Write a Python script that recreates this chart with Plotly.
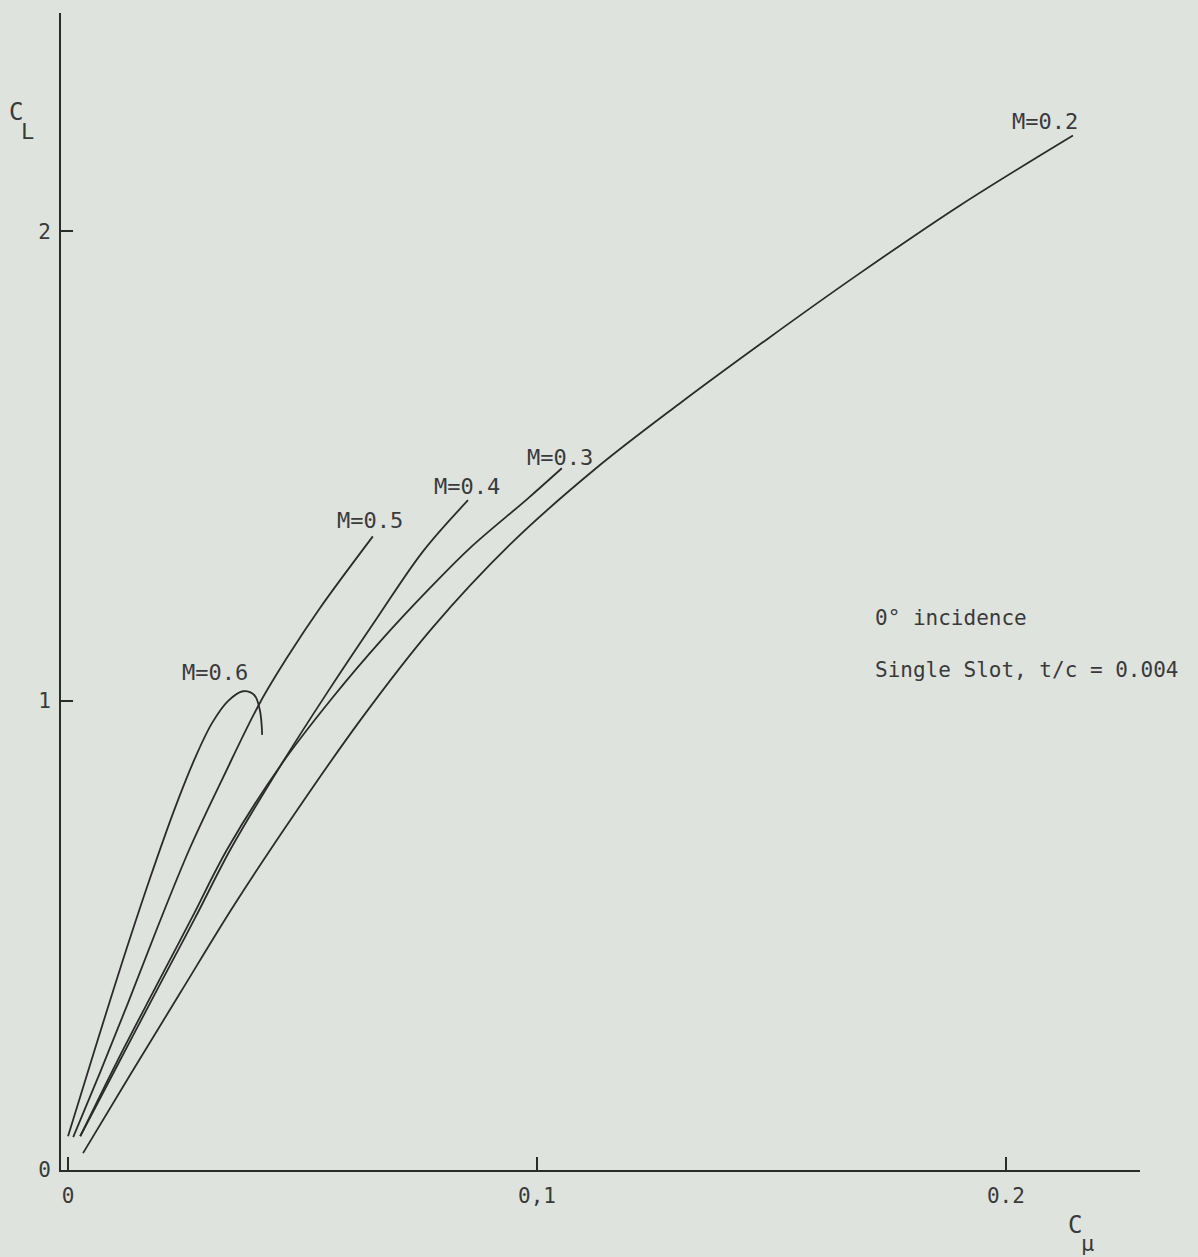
import plotly.graph_objects as go

# C_mu (x) and C_L (y) values, one pair of lists per Mach number
m02_cmu = [0.0032, 0.0132, 0.0239, 0.0354, 0.0484, 0.0623, 0.0776, 0.0945, 0.1126, 0.1303, 0.1488, 0.1682, 0.1902, 0.2143]
m02_cl = [0.036, 0.202, 0.377, 0.564, 0.760, 0.958, 1.154, 1.335, 1.495, 1.632, 1.768, 1.906, 2.055, 2.204]

m03_cmu = [0.0026, 0.0104, 0.0186, 0.0264, 0.0341, 0.0454, 0.0563, 0.0672, 0.0772, 0.0857, 0.0981, 0.1053]
m03_cl = [0.072, 0.230, 0.388, 0.537, 0.686, 0.863, 1.005, 1.133, 1.240, 1.325, 1.431, 1.495]

m04_cmu = [0.0026, 0.0109, 0.0192, 0.0271, 0.0348, 0.0454, 0.0552, 0.0659, 0.0757, 0.0853]
m04_cl = [0.072, 0.230, 0.388, 0.537, 0.686, 0.863, 1.016, 1.176, 1.318, 1.427]

m05_cmu = [0.0011, 0.0068, 0.0128, 0.0190, 0.0260, 0.0330, 0.0409, 0.0473, 0.0537, 0.0650]
m05_cl = [0.070, 0.207, 0.356, 0.515, 0.686, 0.835, 0.995, 1.101, 1.197, 1.350]

m06_cmu = [0.0000, 0.0058, 0.0115, 0.0175, 0.0228, 0.0271, 0.0307, 0.0341, 0.0373, 0.0397, 0.0409, 0.0414]
m06_cl = [0.072, 0.260, 0.441, 0.622, 0.771, 0.878, 0.952, 0.999, 1.020, 1.012, 0.980, 0.927]

series_names = ["M=0.2", "M=0.3", "M=0.4", "M=0.5", "M=0.6"]
label_cmu = [0.2083, 0.1049, 0.0851, 0.0644, 0.0313]
label_cl = [2.234, 1.517, 1.457, 1.384, 1.061]

x_tickvals = [0, 0.1, 0.2]
x_ticktext = ["0", "0,1", "0.2"]
y_tickvals = [0, 1, 2]
y_ticktext = ["0", "1", "2"]

BG = "#dfe3de"
INK = "#2b2b2b"
TXT = "#3a3a3a"
FONT = "DejaVu Sans Mono"

fig = go.Figure()
for xs, ys, name in zip([m02_cmu, m03_cmu, m04_cmu, m05_cmu, m06_cmu],
                        [m02_cl, m03_cl, m04_cl, m05_cl, m06_cl], series_names):
    fig.add_trace(go.Scatter(x=xs, y=ys, mode="lines", name=name,
                             line=dict(color=INK, width=1.8, shape="spline", smoothing=1.0),
                             showlegend=False, hoverinfo="skip"))

for name, lx, ly in zip(series_names, label_cmu, label_cl):
    fig.add_annotation(x=lx, y=ly, text=name, showarrow=False,
                       xanchor="center", yanchor="middle",
                       font=dict(family=FONT, size=22, color=TXT))

fig.add_annotation(x=0.1716, y=1.176, text="0° incidence", showarrow=False,
                   xanchor="left", yanchor="middle",
                   font=dict(family=FONT, size=21, color=TXT))
fig.add_annotation(x=0.1716, y=1.065, text="Single Slot, t/c = 0.004", showarrow=False,
                   xanchor="left", yanchor="middle",
                   font=dict(family=FONT, size=21, color=TXT))

# axis titles: C_L at upper left, C_mu at lower right
title_parts = [
    (-0.0417, 0.9144, "C", 24),
    (-0.0306, 0.8980, "L", 22),
    (0.9398, -0.0475, "C", 24),
    (0.9518, -0.0631, "μ", 22),
]
for px_, py_, txt, sz in title_parts:
    fig.add_annotation(xref="paper", yref="paper", x=px_, y=py_, text=txt,
                       xanchor="center", yanchor="middle", showarrow=False,
                       font=dict(family=FONT, size=sz, color=TXT))

fig.update_layout(
    width=1198, height=1257, autosize=False,
    margin=dict(l=61, r=58, t=13, b=87),
    paper_bgcolor=BG, plot_bgcolor=BG,
    font=dict(family=FONT, size=21, color=TXT),
    xaxis=dict(range=[-0.0015, 0.2286], showgrid=False, zeroline=False,
               showline=True, linecolor=INK, linewidth=2,
               ticks="inside", ticklen=13, tickwidth=1.5, tickcolor=INK,
               tickvals=x_tickvals, ticktext=x_ticktext, ticklabelstandoff=6,
               tickfont=dict(family=FONT, size=21, color=TXT)),
    yaxis=dict(range=[0, 2.465], showgrid=False, zeroline=False,
               showline=True, linecolor=INK, linewidth=2,
               ticks="inside", ticklen=12, tickwidth=1.5, tickcolor=INK,
               tickvals=y_tickvals, ticktext=y_ticktext, ticklabelstandoff=4,
               tickfont=dict(family=FONT, size=21, color=TXT)),
)

fig.write_html("out.html")
